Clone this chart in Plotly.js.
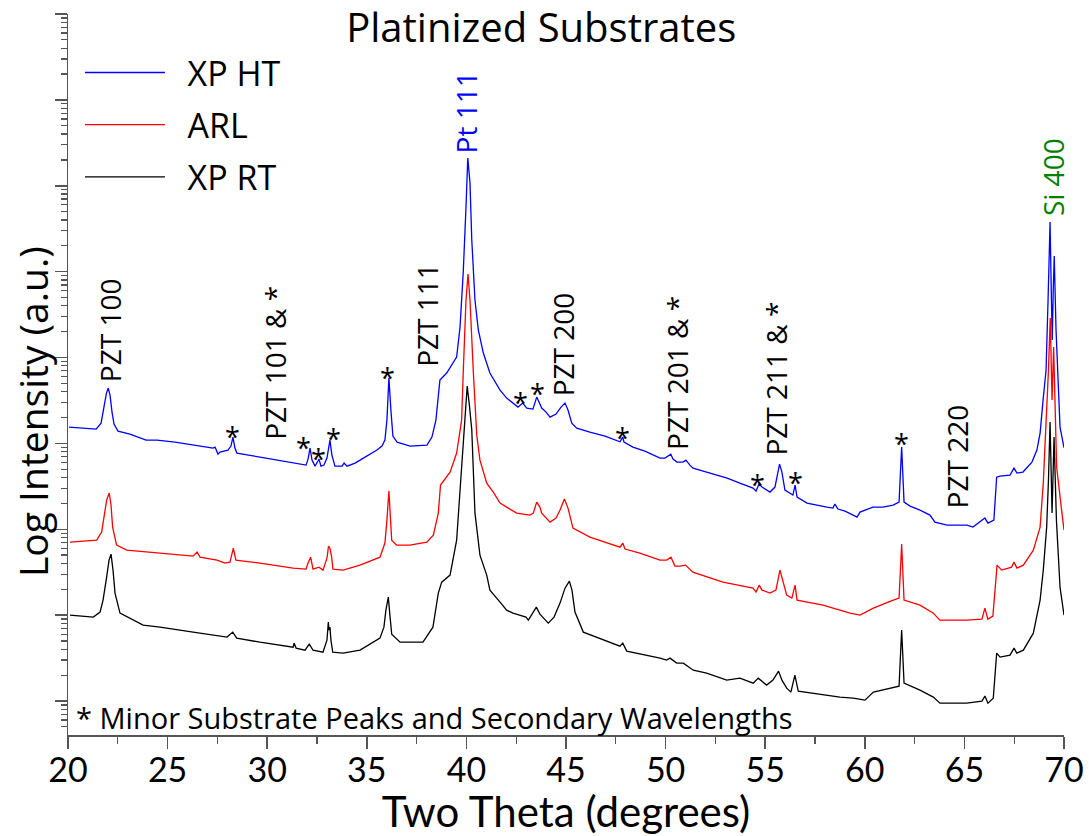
<!DOCTYPE html>
<html>
<head>
<meta charset="utf-8">
<script src="https://cdn.plot.ly/plotly-3.0.1.min.js"></script>
<style>html,body{margin:0;padding:0;background:#fff;}#chart{width:1089px;height:836px;}</style>
</head>
<body>
<div id="chart"></div>
<script>
// Two-theta (degrees) and log10 intensity
const xHT = [20.05,20.60,21.41,21.66,21.81,21.93,22.02,22.11,22.21,22.31,22.51,23.11,23.92,24.47,25.37,26.27,27.28,27.38,27.53,27.63,28.03,28.18,28.28,28.38,28.48,29.64,31.30,31.95,32.05,32.15,32.25,32.40,32.55,32.60,32.70,32.85,33.00,33.15,33.25,33.40,33.76,33.86,34.01,34.41,34.66,35.51,35.76,35.91,36.01,36.11,36.21,36.31,36.52,37.17,38.02,38.27,38.47,38.57,38.67,39.01,39.51,39.68,39.84,39.98,40.07,40.18,40.27,40.43,40.60,40.85,41.18,41.69,42.02,42.59,42.83,43.03,43.34,43.53,43.78,44.00,44.20,44.50,44.75,44.95,45.10,45.29,45.54,46.20,46.96,47.71,47.85,47.91,48.36,48.96,49.72,49.97,50.26,50.37,50.57,50.87,51.02,51.22,51.38,52.23,53.09,53.73,54.39,54.54,54.69,54.84,55.24,55.49,55.64,55.72,55.84,55.99,56.39,56.50,56.60,57.10,58.10,58.40,58.50,58.65,59.01,59.61,59.76,60.41,60.91,61.42,61.72,61.85,61.97,62.27,62.77,63.27,63.52,64.13,65.13,65.43,66.03,66.18,66.48,66.62,66.79,67.29,67.49,67.64,67.94,68.39,68.64,68.80,68.95,69.10,69.20,69.30,69.37,69.41,69.46,69.51,69.60,69.72,69.80,70.00];
const logHT = [4.190,4.178,4.166,4.236,4.411,4.586,4.644,4.562,4.364,4.225,4.143,4.108,4.038,4.038,4.015,3.980,3.945,3.957,3.875,3.898,3.922,3.969,4.073,3.945,3.887,3.840,3.770,3.747,3.817,3.945,3.805,3.735,3.794,3.817,3.735,3.747,3.829,4.038,3.864,3.735,3.735,3.770,3.735,3.770,3.805,3.922,3.969,4.038,4.271,4.760,4.388,4.085,4.015,3.969,3.980,4.073,4.271,4.504,4.737,4.819,5.005,5.354,5.983,6.752,7.323,7.032,6.368,5.669,5.319,5.052,4.819,4.621,4.527,4.423,4.469,4.411,4.399,4.539,4.411,4.364,4.306,4.341,4.423,4.469,4.388,4.236,4.178,4.131,4.085,4.019,4.073,4.015,3.957,3.910,3.829,3.829,3.875,3.817,3.782,3.782,3.805,3.747,3.712,3.654,3.596,3.537,3.479,3.444,3.526,3.491,3.433,3.491,3.666,3.759,3.666,3.456,3.398,3.514,3.374,3.304,3.258,3.246,3.293,3.235,3.211,3.141,3.200,3.258,3.258,3.281,3.316,3.957,3.316,3.270,3.223,3.165,3.083,3.048,3.048,3.025,3.130,3.071,3.106,3.607,3.619,3.631,3.712,3.654,3.666,3.782,3.922,4.120,4.504,4.854,5.669,6.577,5.669,5.203,5.785,6.181,5.319,4.656,4.190,3.950];

const xARL = [20.10,21.44,21.69,21.81,21.94,22.07,22.16,22.24,22.44,22.95,24.62,26.28,26.48,26.63,27.48,27.88,28.13,28.30,28.43,29.64,31.30,31.95,32.05,32.18,32.30,32.60,32.80,33.00,33.08,33.15,33.23,33.30,33.81,34.66,35.66,35.91,36.01,36.11,36.25,36.50,37.17,38.01,38.34,38.59,38.70,39.18,39.51,39.76,39.84,39.98,40.08,40.18,40.35,40.52,40.68,41.02,41.35,41.69,42.02,42.52,43.19,43.36,43.53,43.69,43.78,44.20,44.50,44.70,44.92,45.10,45.35,46.20,47.71,47.85,47.96,48.71,49.72,50.05,50.27,50.47,50.72,51.00,51.37,52.88,54.39,54.54,54.70,54.84,55.24,55.54,55.74,55.89,56.08,56.34,56.50,56.60,57.90,58.75,59.26,59.76,60.43,61.43,61.72,61.85,61.97,62.77,63.44,63.77,65.11,65.88,66.03,66.18,66.43,66.64,66.87,67.37,67.49,67.64,67.96,68.46,68.80,68.96,69.13,69.22,69.31,69.40,69.48,69.63,69.88,70.00];
const logARL = [2.850,2.873,2.967,3.130,3.339,3.421,3.281,3.025,2.815,2.757,2.722,2.687,2.734,2.675,2.641,2.606,2.617,2.780,2.641,2.606,2.547,2.536,2.606,2.675,2.536,2.559,2.524,2.664,2.804,2.780,2.687,2.536,2.524,2.582,2.675,2.839,3.106,3.444,2.873,2.815,2.815,2.850,2.932,3.188,3.514,3.665,3.887,4.271,4.819,5.669,5.972,5.669,4.819,4.096,3.805,3.537,3.433,3.304,3.258,3.188,3.165,3.188,3.316,3.258,3.188,3.083,3.130,3.223,3.351,3.246,3.013,2.908,2.792,2.839,2.769,2.722,2.641,2.641,2.675,2.571,2.571,2.582,2.501,2.384,2.314,2.268,2.349,2.291,2.256,2.291,2.524,2.384,2.233,2.198,2.349,2.175,2.116,2.058,2.023,2.000,2.081,2.175,2.198,2.827,2.175,2.116,2.023,1.942,1.942,1.953,2.081,1.953,1.988,2.582,2.524,2.559,2.617,2.547,2.582,2.757,3.025,3.537,4.306,4.853,5.459,4.504,5.121,3.724,3.223,2.990];

const xRT = [20.10,21.27,21.61,21.76,21.94,22.06,22.16,22.26,22.36,22.61,23.77,24.62,26.28,27.98,28.27,28.47,29.64,31.30,31.35,31.45,31.90,32.11,32.30,32.80,33.00,33.07,33.10,33.15,33.20,33.29,33.81,34.66,35.66,35.86,35.96,36.08,36.16,36.25,36.67,37.82,38.32,38.59,38.76,39.18,39.51,39.76,39.90,40.04,40.15,40.27,40.43,40.68,41.02,41.18,41.69,42.02,42.34,42.69,42.99,43.11,43.29,43.51,43.69,44.11,44.40,44.70,44.95,45.17,45.30,45.45,45.87,47.04,47.71,47.85,48.05,49.72,50.05,50.22,50.56,50.89,51.39,52.06,53.07,53.73,54.40,54.65,55.07,55.39,55.67,55.84,56.08,56.29,56.49,56.66,57.92,58.75,59.42,60.01,60.43,61.43,61.72,61.85,61.97,62.77,63.44,63.77,65.11,65.88,66.03,66.18,66.45,66.62,66.79,67.29,67.49,67.63,67.96,68.46,68.80,68.96,69.13,69.22,69.30,69.40,69.50,69.62,69.80,70.00];
const logRT = [2.000,1.977,2.035,2.175,2.443,2.641,2.710,2.524,2.256,2.023,1.883,1.860,1.802,1.744,1.802,1.732,1.685,1.627,1.674,1.616,1.592,1.662,1.592,1.569,1.709,1.918,1.825,1.860,1.709,1.569,1.557,1.592,1.732,1.860,2.058,2.210,2.000,1.779,1.685,1.685,1.860,2.256,2.384,2.466,2.873,3.770,4.271,4.667,4.446,4.155,3.188,2.699,2.466,2.291,2.151,2.058,2.023,2.000,1.977,1.942,2.012,2.093,2.012,1.907,1.977,2.140,2.314,2.396,2.291,2.035,1.802,1.697,1.639,1.674,1.581,1.499,1.476,1.499,1.441,1.441,1.359,1.324,1.243,1.266,1.208,1.266,1.185,1.243,1.348,1.243,1.150,1.103,1.301,1.115,1.068,1.045,1.033,1.010,1.103,1.161,1.173,1.825,1.208,1.126,1.045,0.975,0.975,0.998,1.057,0.975,1.033,1.557,1.511,1.534,1.616,1.557,1.592,1.790,2.175,2.524,3.025,3.572,4.248,3.188,4.073,3.106,2.326,2.000];

const seriesNames = ["XP HT", "ARL", "XP RT"];
const xTickVals = [20,25,30,35,40,45,50,55,60,65,70];

// Peak labels: [text, two-theta, log10 intensity at label foot]
const peakLabels = [
  ["PZT 100", 22.11, 4.690],
  ["PZT 101 & *", 30.35, 4.020],
  ["PZT 111", 37.98, 4.870],
  ["Pt 111", 40.00, 7.358],
  ["PZT 200", 44.82, 4.530],
  ["PZT 201 & *", 50.57, 3.900],
  ["PZT 211 & *", 55.52, 3.830],
  ["PZT 220", 64.63, 3.220],
  ["Si 400", 69.45, 6.624]
];
const labelColors = {"Pt 111": "#0000ff", "Si 400": "#008000"};
// Asterisk marks for minor substrate peaks: [two-theta, log10 intensity]
const starMarks = [[28.27,4.166],[31.82,4.038],[32.57,3.902],[33.32,4.135],[36.03,4.854],[42.74,4.562],[43.57,4.659],[47.85,4.155],[54.62,3.604],[56.53,3.631],[61.85,4.077]];

const pow10 = a => a.map(v => Math.pow(10, v));
const FONT = "Open Sans, Noto Sans, DejaVu Sans, sans-serif";
const FONT_AX = "Lato, Open Sans, sans-serif";
const NB = "\u00a0\u00a0";

const traces = [
  {x: xHT, y: pow10(logHT), name: NB + seriesNames[0], mode: "lines", line: {color: "#0000ff", width: 1.3}, legendgroup: "a"},
  {x: xARL, y: pow10(logARL), name: NB + seriesNames[1], mode: "lines", line: {color: "#ff0000", width: 1.3}, legendgroup: "b"},
  {x: xRT, y: pow10(logRT), name: NB + seriesNames[2], mode: "lines", line: {color: "#000000", width: 1.3}, legendgroup: "c"}
];

const annotations = [];
peakLabels.forEach(p => {
  annotations.push({
    x: p[1], y: p[2], xref: "x", yref: "y", text: p[0], showarrow: false,
    textangle: -90, xanchor: "center", yanchor: "bottom",
    font: {family: FONT, size: 28, color: labelColors[p[0]] || "#000000"}
  });
});
starMarks.forEach(s => {
  annotations.push({
    x: s[0], y: s[1], xref: "x", yref: "y", text: "*", showarrow: false, borderpad: 0,
    xanchor: "center", yanchor: "middle", yshift: -7,
    font: {family: FONT, size: 27, color: "#000000"}
  });
});
annotations.push({
  x: 0.006, y: 0.024, xref: "paper", yref: "paper", xanchor: "left", yanchor: "middle",
  text: "* Minor Substrate Peaks and Secondary Wavelengths", showarrow: false,
  font: {family: FONT, size: 29, color: "#000000"}
});
// y-axis title, placed as in the reference (slightly below the plot centre)
annotations.push({
  x: -0.0351, y: 0.448, xref: "paper", yref: "paper", xanchor: "center", yanchor: "middle",
  text: "Log Intensity (a.u.)", showarrow: false, textangle: -90,
  font: {family: FONT, size: 39, color: "#000000"}
});

const layout = {
  width: 1089, height: 836,
  margin: {l: 68, r: 25, t: 14, b: 101, pad: 0},
  paper_bgcolor: "#ffffff", plot_bgcolor: "#ffffff",
  font: {family: FONT, color: "#000000"},
  title: {text: "Platinized Substrates", x: 0.497, xref: "container", y: 0.9665, yref: "container", yanchor: "middle",
          font: {family: FONT, size: 40, color: "#000000"}},
  xaxis: {
    range: [20, 70], tickvals: xTickVals, ticktext: xTickVals.map(String),
    showline: true, linecolor: "#555555", linewidth: 1.5, showgrid: false, zeroline: false,
    ticks: "outside", ticklen: 12, tickwidth: 1.5, tickcolor: "#555555", ticklabelstandoff: -7,
    tickfont: {family: FONT_AX, size: 34, color: "#000000"},
    minor: {dtick: 2.5, ticks: "outside", ticklen: 7, tickwidth: 1.2, tickcolor: "#555555", showgrid: false},
    title: {text: "Two Theta (degrees)", font: {family: FONT_AX, size: 42, color: "#000000"}, standoff: 14}
  },
  yaxis: {
    type: "log", range: [0.604, 9], dtick: 1,
    showline: true, linecolor: "#555555", linewidth: 1.5, showgrid: false, zeroline: false,
    showticklabels: false, ticks: "outside", ticklen: 12, tickwidth: 1.5, tickcolor: "#555555",
    minor: {dtick: "D1", ticks: "outside", ticklen: 6, tickwidth: 1.2, tickcolor: "#555555", showgrid: false}
  },
  showlegend: true,
  legend: {x: 0.012, y: 0.9585, xanchor: "left", yanchor: "top", bgcolor: "rgba(0,0,0,0)",
           font: {family: FONT, size: 34, color: "#000000"}, itemwidth: 80, tracegroupgap: 5, traceorder: "grouped"},
  annotations: annotations
};

Plotly.newPlot("chart", traces, layout, {staticPlot: true, displayModeBar: false});
</script>
</body>
</html>
